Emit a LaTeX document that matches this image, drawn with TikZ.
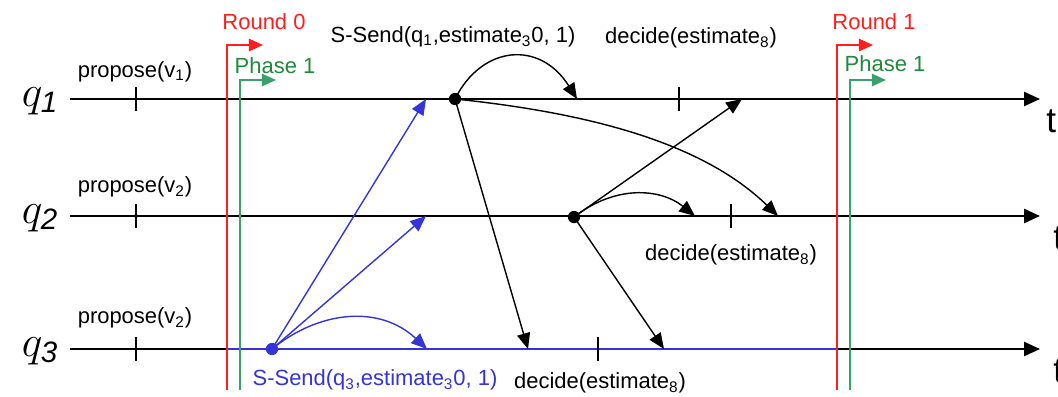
\documentclass[tikz,border=0pt]{standalone}
\usepackage{fontspec}
\setmainfont{Liberation Sans}
\usetikzlibrary{arrows.meta}
\definecolor{roundred}{HTML}{FF1E1E}
\definecolor{phaseline}{HTML}{3AA06C}
\definecolor{phasetext}{HTML}{1E8A3A}
\definecolor{sendblue}{HTML}{3434D8}

\begin{document}
\begin{tikzpicture}[x=0.02cm, y=-0.02cm,
  timeline/.style={line width=1.1pt, -{Triangle[length=9pt,width=8pt]}},
  msg/.style={line width=0.8pt, -{Triangle[length=9pt,width=7.5pt]}},
  marker/.style={line width=1.1pt, -{Triangle[length=8pt,width=7pt]}},
  lbl/.style={font=\fontsize{12.5}{14}\selectfont, inner sep=0pt},
  qlbl/.style={font=\fontsize{24}{24}\selectfont, inner sep=0pt},
  tickmark/.style={line width=1pt},
  event/.style={circle, fill, inner sep=0pt, minimum size=7pt}
]
  \useasboundingbox (0,0) rectangle (1058,396);

  % process lines
  \foreach \i/\y/\tx in {1/99/1046,2/216/1053,3/349/1053} {
    \coordinate (s\i) at (70,\y);
    \coordinate (e\i) at (1040,\y);
    \node[qlbl] (q\i) at (40,\y+2) {$q_{\mathit{\i}}$};
    \draw[timeline] (s\i) -- (e\i);
    \node[lbl, anchor=west, font=\fontsize{20}{20}\selectfont] (t\i) at (\tx,\y+22) {t};
    \draw[tickmark] (136,\y-12) -- (136,\y+12);
  }
  \draw[sendblue, line width=1.1pt] (227,349) -- (837,349);

  % other ticks
  \draw[tickmark] (679,87) -- (679,111);
  \draw[tickmark] (731,204) -- (731,228);
  \draw[tickmark] (598,337) -- (598,361);

  % proposals
  \node[lbl] (prop1) at (135,72) {propose(v\textsubscript{1})};
  \node[lbl] (prop2) at (135,187) {propose(v\textsubscript{2})};
  \node[lbl] (prop3) at (135,318) {propose(v\textsubscript{2})};

  % rounds and phases
  \draw[marker, roundred] (227,390) -- (227,45) -- (263,45);
  \draw[marker, phaseline] (240,390) -- (240,80) -- (276,80);
  \draw[marker, roundred] (837,390) -- (837,45) -- (873,45);
  \draw[marker, phaseline] (850,390) -- (850,80) -- (886,80);
  \node[lbl, text=roundred] (r0) at (264,22) {Round 0};
  \node[lbl, text=phasetext] (ph0) at (275,66) {Phase 1};
  \node[lbl, text=roundred] (r1) at (874,22) {Round 1};
  \node[lbl, text=phasetext] (ph1) at (885,64) {Phase 1};

  % events
  \node[event] (p1) at (455,99) {};
  \node[event] (p2) at (574,217) {};
  \node[event, sendblue] (p3) at (272,349) {};

  \coordinate (a11) at (577,99);
  \coordinate (a12) at (778,216);
  \coordinate (a13) at (528,349);
  \coordinate (a21) at (742,99);
  \coordinate (a22) at (695,216);
  \coordinate (a23) at (664,349);
  \coordinate (a31) at (426,99);
  \coordinate (a32) at (426,216);
  \coordinate (a33) at (427,349);

  % messages from q1
  \draw[msg] (p1.center) .. controls (482,45) and (540,40) .. (a11);
  \draw[msg] (p1.center) .. controls (610,115) and (710,150) .. (a12);
  \draw[msg] (p1.center) -- (a13);
  % messages from q2
  \draw[msg] (p2.center) -- (a21);
  \draw[msg] (p2.center) .. controls (615,185) and (660,188) .. (a22);
  \draw[msg] (p2.center) -- (a23);
  % messages from q3
  \draw[msg, sendblue] (p3.center) -- (a31);
  \draw[msg, sendblue] (p3.center) -- (a32);
  \draw[msg, sendblue] (p3.center) .. controls (320,310) and (380,305) .. (a33);

  % labels
  \node[lbl] (send1) at (453,37) {S-Send(q\textsubscript{1},estimate\textsubscript{3}0, 1)};
  \node[lbl] (dec1) at (691,38) {decide(estimate\textsubscript{8})};
  \node[lbl] (dec2) at (731,255) {decide(estimate\textsubscript{8})};
  \node[lbl, text=sendblue] (send3) at (375,380) {S-Send(q\textsubscript{3},estimate\textsubscript{3}0, 1)};
  \node[lbl] (dec3) at (600,383) {decide(estimate\textsubscript{8})};
\end{tikzpicture}
\end{document}
